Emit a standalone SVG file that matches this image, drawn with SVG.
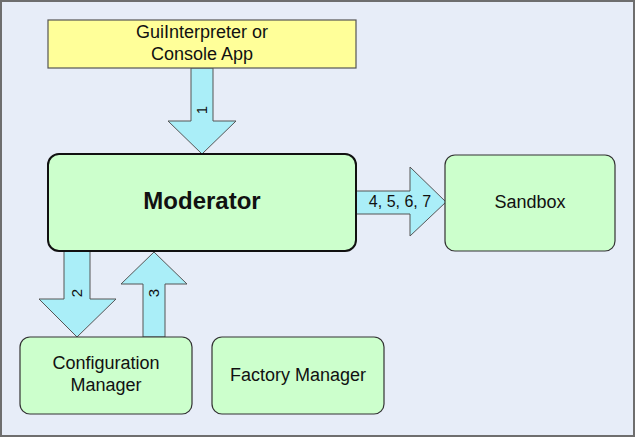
<svg xmlns="http://www.w3.org/2000/svg" width="635" height="437" viewBox="0 0 635 437">
<style>
.box{fill:#CCFFCC;stroke:#333;stroke-width:1.2}
.mod{fill:#CCFFCC;stroke:#111;stroke-width:2}
.app{fill:#FFFF99;stroke:#555;stroke-width:1.2}
.arr{fill:#AAEEF8;stroke:#555;stroke-width:1}
text{font-family:"Liberation Sans",Arial,sans-serif;fill:#111;text-anchor:middle}
.t{font-size:18px}
.b{font-size:24px;font-weight:bold}
.n{font-size:15px}
.l{font-size:16px}
</style>
<rect x="1" y="1" width="633" height="435" fill="#E7EDF8" stroke="#6E6E6E" stroke-width="2"/>
<g id="connectors">
<g id="arrow1">
<polygon class="arr" points="191,68 213,68 213,121 236,121 202,154 168,121 191,121"/>
<text class="n" transform="translate(202,110) rotate(-90)" y="5">1</text>
</g>
<g id="arrow2">
<polygon class="arr" points="64,251 90,251 90,299 116,299 77,337 39,299 64,299"/>
<text class="n" transform="translate(77,293) rotate(-90)" y="5">2</text>
</g>
<g id="arrow3">
<polygon class="arr" points="143,337 165,337 165,284 187,284 154,252 121,284 143,284"/>
<text class="n" transform="translate(154,293) rotate(-90)" y="5">3</text>
</g>
<g id="arrow4567">
<polygon class="arr" points="356,191 410,191 410,167 446,202 410,236 410,214 356,214"/>
<text class="l" x="400" y="207">4, 5, 6, 7</text>
</g>
</g>
<g id="app">
<rect class="app" x="48" y="20" width="308" height="48"/>
<text class="t" x="202" y="38">GuiInterpreter or</text>
<text class="t" x="202" y="60">Console App</text>
</g>
<g id="moderator">
<rect class="mod" x="48" y="154" width="308" height="97" rx="11"/>
<text class="b" x="202" y="209">Moderator</text>
</g>
<g id="sandbox">
<rect class="box" x="445" y="155" width="170" height="96" rx="10"/>
<text class="t" x="530" y="207.5">Sandbox</text>
</g>
<g id="config">
<rect class="box" x="20" y="337" width="172" height="77" rx="10"/>
<text class="t" x="106" y="369">Configuration</text>
<text class="t" x="106" y="391">Manager</text>
</g>
<g id="factory">
<rect class="box" x="212" y="337" width="172" height="77" rx="10"/>
<text class="t" x="298" y="381">Factory Manager</text>
</g>
</svg>
